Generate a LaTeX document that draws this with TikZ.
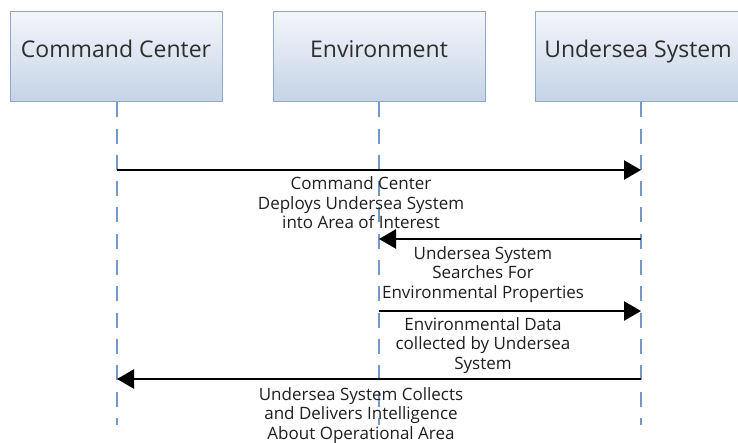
\documentclass[tikz,border=0pt]{standalone}
\usepackage{fontspec}
\setmainfont{Open Sans}
\usetikzlibrary{arrows.meta}

\definecolor{boxtop}{HTML}{F4F6FA}
\definecolor{boxbottom}{HTML}{C4D3E6}
\definecolor{boxline}{HTML}{8EA8C9}
\definecolor{lifeline}{HTML}{7398C8}
\definecolor{titletext}{HTML}{2E2E2E}

\tikzset{
  actor/.style={draw=boxline, line width=1.2pt, top color=boxtop, bottom color=boxbottom,
    minimum width=212pt, minimum height=90pt, inner sep=0pt, anchor=north west},
  actortitle/.style={font=\fontsize{23}{27}\selectfont, text=titletext, anchor=base, inner sep=0pt},
  lifeline/.style={draw=lifeline, line width=2.3pt, dash pattern=on 15pt off 11.3pt},
  msg/.style={draw=black, line width=2.4pt, -{Triangle[length=17pt, width=19pt]}},
  msglabel/.style={font=\fontsize{17}{19.6}\selectfont, align=center, anchor=north, inner sep=0pt, text=black!88}
}

\begin{document}
\begin{tikzpicture}[x=1pt, y=-1pt]
  \useasboundingbox[fill=white] (0,0) rectangle (738,442);

  % participant boxes
  \node[actor] (cc)  at (10,11)  {};
  \node[actor] (env) at (273,11) {};
  \node[actor] (us)  at (535,11) {};
  \node[actortitle] (cct)  at (116,57.5) {Command Center};
  \node[actortitle] (envt) at (379,57.5) {Environment};
  \node[actortitle] (ust)  at (638,57.5) {Undersea System};

  % lifeline ends
  \coordinate (ccend)  at (117,425);
  \coordinate (envend) at (379,425);
  \coordinate (usend)  at (641,425);

  \draw[lifeline] (cc.south -| ccend) -- (ccend);
  \draw[lifeline] (env.south -| envend) -- (envend);
  \draw[lifeline] (us.south -| usend) -- (usend);

  % message anchor points on the lifelines
  \coordinate (m1a) at (117,170);  \coordinate (m1b) at (641,170);
  \coordinate (m2a) at (641,239);  \coordinate (m2b) at (379,239);
  \coordinate (m3a) at (379,311);  \coordinate (m3b) at (641,311);
  \coordinate (m4a) at (641,379);  \coordinate (m4b) at (117,379);

  \draw[msg] (m1a) -- (m1b);
  \draw[msg] (m2a) -- (m2b);
  \draw[msg] (m3a) -- (m3b);
  \draw[msg] (m4a) -- (m4b);

  % message labels
  \node[msglabel] (l1) at (361,176.5) {Command Center\\Deploys Undersea System\\into Area of Interest};
  \node[msglabel] (l2) at (483,246) {Undersea System\\Searches For\\Environmental Properties};
  \node[msglabel] (l3) at (483,317) {Environmental Data\\collected by Undersea\\System};
  \node[msglabel] (l4) at (361,387) {Undersea System Collects\\and Delivers Intelligence\\About Operational Area};
\end{tikzpicture}
\end{document}
